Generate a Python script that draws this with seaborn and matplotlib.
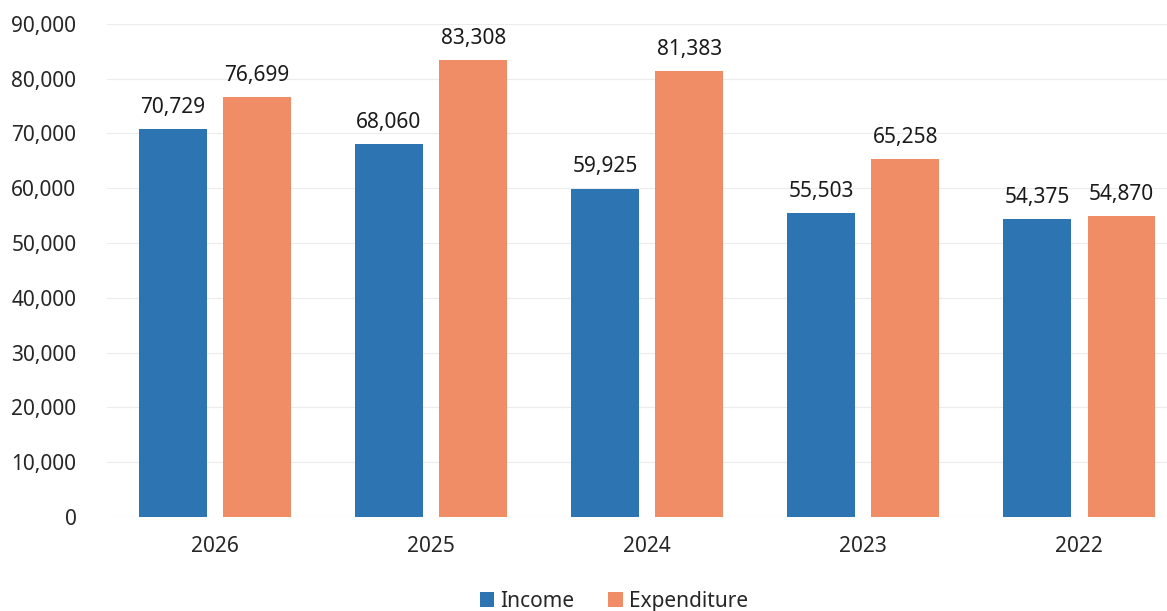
import matplotlib
matplotlib.use("Agg")
import matplotlib.pyplot as plt
import pandas as pd
import seaborn as sns

years = ["2026", "2025", "2024", "2023", "2022"]
income = [70729, 68060, 59925, 55503, 54375]
expenditure = [76699, 83308, 81383, 65258, 54870]
series_names = ["Income", "Expenditure"]
colors = ["#2d74b2", "#f08c66"]

df = pd.DataFrame({
    "Year": years * 2,
    "Value": income + expenditure,
    "Series": [series_names[0]] * len(years) + [series_names[1]] * len(years),
})

sns.set_theme(style="white")
plt.rcParams["font.family"] = ["Noto Sans", "DejaVu Sans"]

fig = plt.figure(figsize=(11.67, 6.11), dpi=100)
ax = fig.add_axes([0.0917, 0.154, 0.9083, 0.807])

sns.barplot(
    data=df, x="Year", y="Value", hue="Series", order=years,
    hue_order=series_names, palette=colors, width=0.78, gap=0.2,
    saturation=1, linewidth=0, ax=ax, legend=True,
)

for container in ax.containers:
    ax.bar_label(container, labels=[f"{v:,.0f}" for v in container.datavalues],
                 padding=8, fontsize=15, color="#1a1a1a")

ax.set_ylim(0, 90000)
ax.set_xlim(-0.5, 4.407)
ax.set_yticks(range(0, 90001, 10000))
ax.set_yticklabels([f"{v:,}" for v in range(0, 90001, 10000)])
ax.tick_params(axis="y", labelsize=15, labelcolor="#262626", length=0, pad=22)
ax.tick_params(axis="x", labelsize=15, labelcolor="#262626", length=0, pad=14)
ax.set_xlabel("")
ax.set_ylabel("")
ax.yaxis.grid(True, color="#ececec", linewidth=0.8)
ax.set_axisbelow(True)
for spine in ax.spines.values():
    spine.set_visible(False)

handles, labels = ax.get_legend_handles_labels()
ax.get_legend().remove()
fig.legend(handles, labels, loc="center", bbox_to_anchor=(0.526, 0.016),
           bbox_transform=fig.transFigure, ncol=2, frameon=False, fontsize=15,
           handlelength=0.7, handleheight=0.7, handletextpad=0.3,
           columnspacing=1.6)

fig.savefig("out.png", dpi=100)
